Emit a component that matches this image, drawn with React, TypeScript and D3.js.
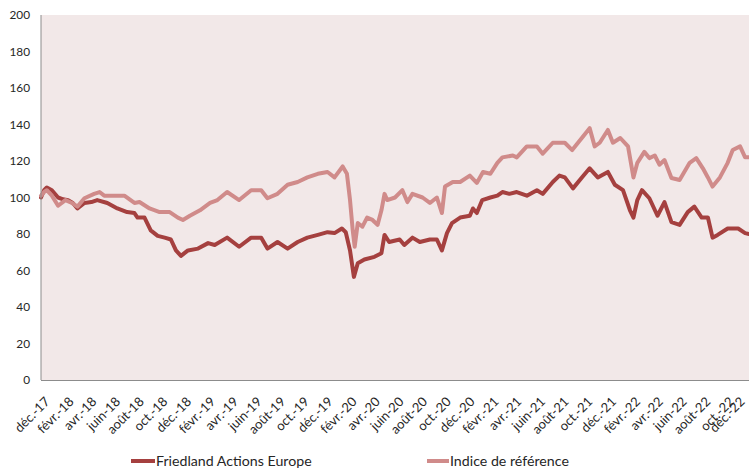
import React from 'react';
import * as d3 from 'd3';

const friedlandDates = [
  '2017-12-01','2017-12-09','2017-12-16','2017-12-29','2018-01-14','2018-01-27','2018-02-09','2018-02-21',
  '2018-03-05','2018-03-23','2018-04-10','2018-04-25','2018-05-21','2018-06-16','2018-07-11','2018-07-30',
  '2018-08-07','2018-08-25','2018-09-10','2018-09-28','2018-10-16','2018-11-01','2018-11-14','2018-11-27',
  '2018-12-15','2019-01-10','2019-02-05','2019-02-22','2019-03-26','2019-04-26','2019-05-27','2019-06-22',
  '2019-07-08','2019-08-03','2019-08-29','2019-09-24','2019-10-19','2019-11-15','2019-12-10','2019-12-28',
  '2020-01-16','2020-01-26','2020-02-06','2020-02-16','2020-02-26','2020-03-14','2020-04-09','2020-04-27',
  '2020-05-05','2020-05-17','2020-06-13','2020-06-25','2020-07-16','2020-08-04','2020-08-30','2020-09-17',
  '2020-09-30','2020-10-13','2020-10-26','2020-11-16','2020-12-11','2020-12-19','2020-12-29','2021-01-12',
  '2021-02-02','2021-02-20','2021-03-05','2021-03-23','2021-04-11','2021-05-07','2021-06-02','2021-06-17',
  '2021-07-13','2021-07-30','2021-08-13','2021-09-03','2021-09-26','2021-10-16','2021-11-06','2021-12-02',
  '2021-12-20','2022-01-10','2022-01-28','2022-02-06','2022-02-16','2022-02-28','2022-03-19','2022-04-09',
  '2022-04-27','2022-05-15','2022-06-05','2022-06-26','2022-07-13','2022-08-01','2022-08-17','2022-08-29',
  '2022-09-11','2022-10-07','2022-11-03','2022-11-21','2022-12-01'
];
const friedlandValues = [
  100, 104, 105.5, 104, 100, 99, 98.5, 97,
  94, 97, 97.5, 98.6, 97, 94, 92, 91.5,
  89, 89, 82, 79, 78, 77, 71, 68,
  71, 72, 75, 74, 78, 73, 78, 78,
  72, 75.6, 72, 75.6, 78, 79.5, 81, 80.5,
  83, 81, 71, 56.5, 64, 66, 67.5, 69.5,
  79.5, 75.6, 77, 74, 78, 75.6, 77, 77,
  71, 80.5, 86, 89, 90, 94, 91.5, 98.6,
  100, 101, 103, 102, 103, 101, 104, 102,
  108.5, 112, 111, 105, 111, 116, 111, 114,
  107, 104, 93, 89, 98.6, 104, 99.6, 90,
  97.5, 86.5, 85, 92, 95, 89, 89, 78,
  79.5, 83, 83, 80.5, 80
];

const indexDates = [
  '2017-12-01','2017-12-09','2017-12-16','2017-12-29','2018-01-14','2018-02-02','2018-02-19','2018-03-05',
  '2018-03-23','2018-04-17','2018-05-01','2018-05-13','2018-06-08','2018-07-04','2018-07-30','2018-08-12',
  '2018-09-07','2018-10-03','2018-10-29','2018-11-19','2018-12-02','2018-12-20','2019-01-15','2019-02-10',
  '2019-03-01','2019-03-26','2019-04-26','2019-05-27','2019-06-22','2019-07-08','2019-08-03','2019-08-29',
  '2019-09-24','2019-10-19','2019-11-15','2019-12-10','2019-12-28','2020-01-18','2020-01-29','2020-02-06',
  '2020-02-13','2020-02-18','2020-02-26','2020-03-09','2020-03-21','2020-04-04','2020-04-17','2020-04-27',
  '2020-05-05','2020-05-12','2020-06-01','2020-06-20','2020-07-03','2020-07-16','2020-08-11','2020-08-30',
  '2020-09-17','2020-09-30','2020-10-08','2020-10-28','2020-11-16','2020-12-11','2020-12-29','2021-01-14',
  '2021-02-02','2021-02-20','2021-03-05','2021-04-01','2021-04-11','2021-05-07','2021-06-02','2021-06-17',
  '2021-07-13','2021-07-30','2021-08-13','2021-09-01','2021-09-16','2021-10-16','2021-10-29','2021-11-11',
  '2021-12-02','2021-12-15','2022-01-03','2022-01-23','2022-02-06','2022-02-16','2022-03-06','2022-03-19',
  '2022-04-02','2022-04-14','2022-04-27','2022-05-15','2022-06-05','2022-07-01','2022-07-18','2022-08-04',
  '2022-08-17','2022-08-29','2022-09-17','2022-10-07','2022-10-20','2022-11-08','2022-11-21','2022-12-01'
];
const indexValues = [
  101, 103, 104, 101, 95.5, 98.6, 97, 95,
  99.6, 102, 103, 101, 101, 101, 97, 97.5,
  94, 92, 92, 89, 87.7, 90, 93, 97,
  98.6, 103, 98.6, 104, 104, 99.6, 102, 107,
  108.5, 111, 113, 114, 111, 117, 113, 98.6,
  82, 73, 86, 84, 89, 87.7, 85, 93,
  102, 98.6, 100, 104, 97.5, 102, 100, 97,
  100, 91.5, 106, 108.5, 108.5, 112, 108, 114,
  113, 119, 122, 123, 122, 128, 128, 124,
  130, 130, 130, 126, 130, 138, 128, 130,
  137, 130, 132.6, 128, 111, 119, 125, 121.6,
  123, 118, 120.5, 110.7, 109.6, 119, 121.6, 116,
  111, 106, 111, 119, 126, 128, 122, 122
];

const yTicks = [0, 20, 40, 60, 80, 100, 120, 140, 160, 180, 200];
const tickLabels = [
  'déc.-17','févr.-18','avr.-18','juin-18','août-18','oct.-18',
  'déc.-18','févr.-19','avr.-19','juin-19','août-19','oct.-19',
  'déc.-19','févr.-20','avr.-20','juin-20','août-20','oct.-20',
  'déc.-20','févr.-21','avr.-21','juin-21','août-21','oct.-21',
  'déc.-21','févr.-22','avr.-22','juin-22','août-22','oct.-22','déc.-22'
];
const seriesNames = ['Friedland Actions Europe', 'Indice de référence'];

const W = 749;
const H = 471;
const left = 41;
const right = 749;
const top = 15;
const bottom = 380;
const FONT = 'Lato, "Open Sans", sans-serif';
const DARK = '#A5403F';
const PINK = '#D08B8A';

export default function App() {
  const parse = d3.timeParse('%Y-%m-%d');
  const start = parse('2017-12-01') as Date;
  const end = parse('2022-12-01') as Date;
  const x = d3.scaleTime().domain([start, end]).range([left, right]);
  const y = d3.scaleLinear().domain([0, 200]).range([bottom, top]);
  const tickDates = d3.timeMonth.range(start, d3.timeDay.offset(end, 1), 2);

  const line = d3.line<[Date, number]>().x(d => x(d[0])).y(d => y(d[1]));
  const fData = friedlandDates.map((d, i) => [parse(d) as Date, friedlandValues[i]] as [Date, number]);
  const iData = indexDates.map((d, i) => [parse(d) as Date, indexValues[i]] as [Date, number]);

  return (
    <svg width={W} height={H} style={{ position: 'absolute', left: 0, top: 0 }} fontFamily={FONT}>
      <rect x={0} y={0} width={W} height={H} fill="#ffffff" />
      <rect x={left} y={top} width={right - left} height={bottom - top} fill="#F2E8E8" />
      <path d={line(fData) || ''} fill="none" stroke={DARK} strokeWidth={4} strokeLinejoin="round" strokeLinecap="round" />
      <path d={line(iData) || ''} fill="none" stroke={PINK} strokeWidth={4} strokeLinejoin="round" strokeLinecap="round" />
      <line x1={left} x2={left} y1={top} y2={bottom} stroke="#8c8c8c" strokeWidth={1} />
      <line x1={left} x2={right} y1={bottom + 0.5} y2={bottom + 0.5} stroke="#8c8c8c" strokeWidth={1} />
      {yTicks.map(t => (
        <text key={t} x={30} y={y(t)} dy="0.35em" textAnchor="end" fontSize={11.8} fill="#262626">{t}</text>
      ))}
      {tickDates.map((d, i) => (
        <text key={i} transform={`translate(${Math.min(x(d) + 3, 739)},${396}) rotate(-45)`} textAnchor="end" dy="0.71em" fontSize={13} fill="#262626">
          {tickLabels[i]}
        </text>
      ))}
      <line x1={131} x2={155} y1={461} y2={461} stroke={DARK} strokeWidth={4} />
      <text x={156} y={461} dy="0.35em" fontSize={14.2} fill="#262626">{seriesNames[0]}</text>
      <line x1={427} x2={449} y1={461} y2={461} stroke={PINK} strokeWidth={4} />
      <text x={450} y={461} dy="0.35em" fontSize={14.2} fill="#262626">{seriesNames[1]}</text>
    </svg>
  );
}
